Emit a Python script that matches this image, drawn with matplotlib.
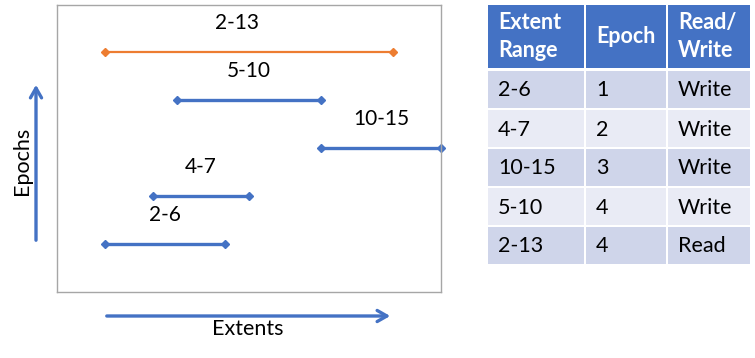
import matplotlib.pyplot as plt
from matplotlib.patches import Rectangle

plt.rcParams['font.family'] = ['Lato', 'DejaVu Sans']

# segments as drawn in the diagram (x grid units, row index)
range_labels = ["2-6", "4-7", "10-15", "5-10", "2-13"]
seg_start = [2, 4, 11, 5, 2]
seg_end = [7, 8, 16, 11, 14]
seg_row = [1, 2, 3, 4, 5]
seg_kind = ["Write", "Write", "Write", "Write", "Read"]

# table contents
col_headers = ["Extent\nRange", "Epoch", "Read/\nWrite"]
tbl_ranges = ["2-6", "4-7", "10-15", "5-10", "2-13"]
tbl_epochs = ["1", "2", "3", "4", "4"]
tbl_rw = ["Write", "Write", "Write", "Write", "Read"]

blue = "#4472C4"
orange = "#ED7D31"

W, H = 755, 358
fig = plt.figure(figsize=(W / 100, H / 100), dpi=100)

# main diagram box
ax = fig.add_axes([57 / W, (H - 292) / H, (441 - 57) / W, 287 / H])
ax.set_xlim(0, 16)
ax.set_ylim(0, 287 / 48)
ax.set_xticks([])
ax.set_yticks([])
for s in ax.spines.values():
    s.set_color("#A6A6A6")
    s.set_linewidth(1)

for lab, x0, x1, r, k in zip(range_labels, seg_start, seg_end, seg_row, seg_kind):
    c = orange if k == "Read" else blue
    lw = 1.6 if k == "Read" else 2.4
    ax.plot([x0, x1], [r, r], color=c, lw=lw, marker="D", ms=4.5, clip_on=False)
    xm = (x0 + x1) / 2 - (0.5 if k == "Read" else 0)
    ax.text(xm, r + 0.6, lab, ha="center", va="center", fontsize=15)

# overlay in pixel coordinates for arrows and table
ov = fig.add_axes([0, 0, 1, 1], facecolor="none")
ov.set_xlim(0, W)
ov.set_ylim(H, 0)
ov.axis("off")

arrow = dict(arrowstyle="->,head_length=0.7,head_width=0.4", color=blue, lw=2.4)
ov.annotate("", xy=(36, 82), xytext=(36, 243), arrowprops=arrow)
ov.annotate("", xy=(393, 316), xytext=(104, 316), arrowprops=arrow)
ov.text(22, 161, "Epochs", rotation=90, ha="center", va="center", fontsize=15.5)
ov.text(248, 329, "Extents", ha="center", va="center", fontsize=15.5)

# table
col_x = [488, 586, 668, 752]
hdr_top, hdr_bot = 5, 68
row_h = 39
body_top = 71
row_colors = ["#CFD5EA", "#E9EBF5"]
gap = 2

for j, h in enumerate(col_headers):
    x0, x1 = col_x[j], col_x[j + 1]
    ov.add_patch(Rectangle((x0, hdr_top), x1 - x0 - gap, hdr_bot - hdr_top, color=blue, lw=0))
    ov.text(x0 + 10, (hdr_top + hdr_bot) / 2, h, color="white", fontweight="bold",
            fontsize=15.5, ha="left", va="center", linespacing=1.45)

cols = [tbl_ranges, tbl_epochs, tbl_rw]
for i in range(len(tbl_ranges)):
    y0 = body_top + i * row_h
    for j in range(3):
        x0, x1 = col_x[j], col_x[j + 1]
        ov.add_patch(Rectangle((x0, y0), x1 - x0 - gap, row_h - gap,
                               color=row_colors[i % 2], lw=0))
        ov.text(x0 + 10, y0 + (row_h - gap) / 2 + 1, cols[j][i], color="black",
                fontsize=15.5, ha="left", va="center")

fig.savefig("out.png", dpi=100)
